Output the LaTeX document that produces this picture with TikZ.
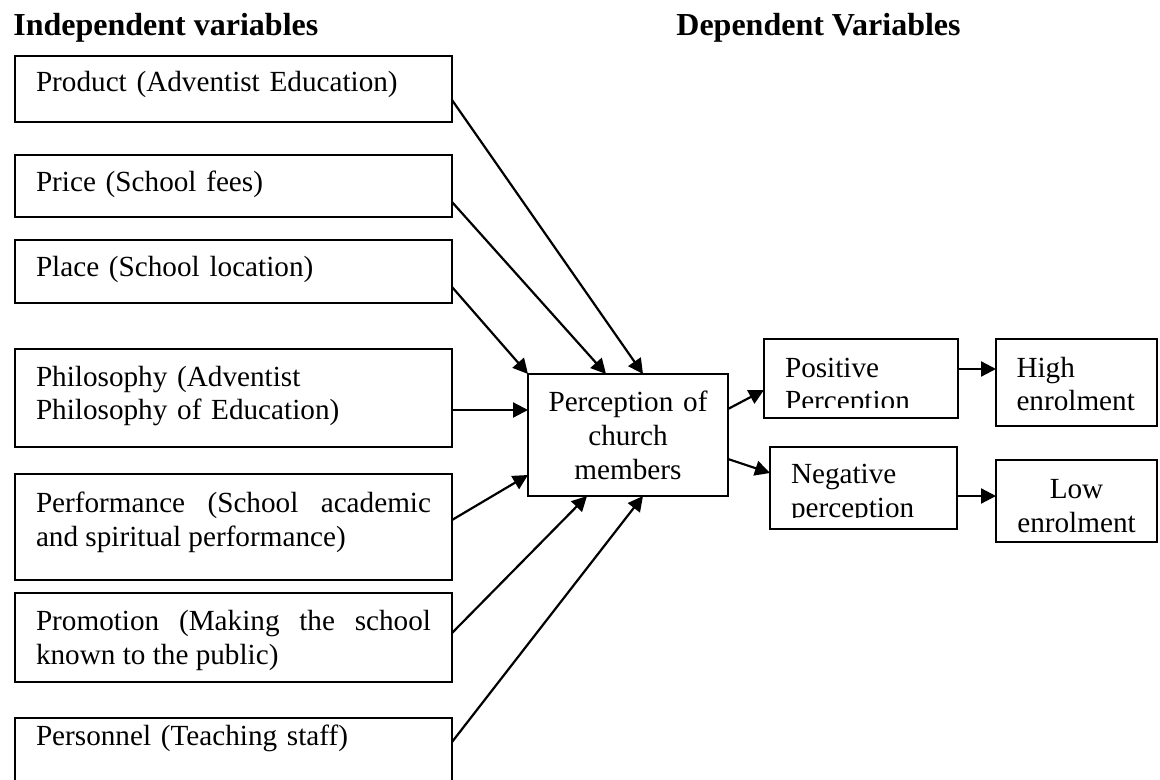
\documentclass[tikz,border=0pt]{standalone}
\usepackage{fontspec}
\setmainfont{Liberation Serif}
\usetikzlibrary{arrows.meta,calc}
\begin{document}
\begin{tikzpicture}[x=0.5pt,y=-0.5pt,
  box/.style={draw, line width=1pt, anchor=north west, inner ysep=0pt, outer sep=0pt, font=\fontsize{14.6}{17}\selectfont},
  lbox/.style={box, inner xsep=10.5pt, text width=197.5pt, align=left},
  jbox/.style={box, inner xsep=10.5pt, text width=197.5pt, align=justify},
  txt/.style={inner sep=0pt, outer sep=0pt, font=\fontsize{14.6}{17}\selectfont, align=left, anchor=base west},
  ttl/.style={inner sep=0pt, anchor=base west, font=\fontsize{16}{19}\selectfont\bfseries},
  arr/.style={-{Triangle[length=7.5pt,width=7.5pt]}, line width=1.1pt}]
\useasboundingbox (0,0) rectangle (1160,780);

\node[ttl] (tI) at (13,36) {Independent variables};
\node[ttl] (tD) at (676,36) {Dependent Variables};

\node[lbox, text height=18pt, text depth=15pt] (product) at (15,56) {Product (Adventist Education)};
\node[lbox, text height=18.5pt, text depth=12.5pt] (price) at (15,155) {Price (School fees)};
\node[lbox, text height=18.5pt, text depth=13pt] (place) at (15,240) {Place (School location)};
\node[lbox, text height=18.5pt, text depth=30.5pt] (philo) at (15,349) {Philosophy (Adventist\\Philosophy of Education)};
\node[jbox, text height=19pt, text depth=34pt] (perf) at (15,474) {Performance (School academic\linebreak and spiritual performance)};
\node[jbox, text height=18.5pt, text depth=26pt] (promo) at (15,593) {Promotion (Making the school\linebreak known to the public)};
\node[lbox, text height=13.5pt, text depth=22.5pt] (pers) at (15,718) {Personnel (Teaching staff)};

\node[box, inner xsep=0pt, text width=100pt, align=center, text height=18.5pt, text depth=42.5pt] (center) at (528,374) {Perception of\\church\\members};

\node[box, minimum width=97pt, minimum height=39.5pt] (pos) at (764,339) {};
\begin{scope}
  \clip (pos.north west) rectangle ($(pos.south east)+(0,-11)$);
  \node[txt, text width=80pt] (posT) at (785,377) {Positive\\Perception};
\end{scope}

\node[box, minimum width=93.5pt, minimum height=41pt] (neg) at (770,447) {};
\begin{scope}
  \clip (neg.north west) rectangle ($(neg.south east)+(0,-12)$);
  \node[txt, text width=80pt] (negT) at (791,483) {Negative\\perception};
\end{scope}

\node[box, inner xsep=10.25pt, text width=60pt, align=left, text height=19pt, text depth=24.5pt] (high) at (996,339) {High\\enrolment};
\node[box, inner xsep=0pt, text width=80.5pt, align=center, text height=19pt, text depth=22pt] (low) at (996,460) {Low\\enrolment};

\draw[arr] ($(product.north east)+(0,44)$) -- ($(center.north west)+(115,0)$);
\draw[arr] ($(price.north east)+(0,47)$) -- ($(center.north west)+(78,0)$);
\draw[arr] ($(place.north east)+(0,47)$) -- (center.north west);
\draw[arr] ($(philo.north east)+(0,61)$) -- ($(center.north west)+(0,36)$);
\draw[arr] ($(perf.north east)+(0,46)$) -- ($(center.north west)+(0,101)$);
\draw[arr] ($(promo.north east)+(0,40)$) -- ($(center.south west)+(59,0)$);
\draw[arr] ($(pers.north east)+(0,24)$) -- ($(center.south west)+(115,0)$);
\draw[arr] ($(center.north east)+(0,35)$) -- ($(pos.north west)+(0,51)$);
\draw[arr] ($(center.north east)+(0,85)$) -- ($(neg.north west)+(0,26)$);
\draw[arr] ($(pos.north east)+(0,30)$) -- ($(high.north west)+(0,30)$);
\draw[arr] ($(neg.north east)+(0,49)$) -- ($(low.north west)+(0,36)$);
\end{tikzpicture}
\end{document}
